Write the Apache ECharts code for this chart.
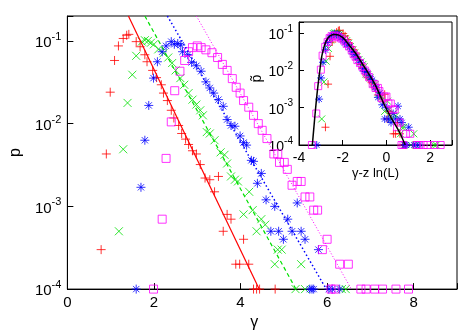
<!doctype html>
<html>
<head>
<meta charset="utf-8">
<title>p vs gamma</title>
<script src="https://cdn.jsdelivr.net/npm/echarts@6/dist/echarts.min.js"></script>
<style>
  html, body { margin: 0; padding: 0; background: #fff; }
  #chart { width: 471px; height: 336px; }
</style>
</head>
<body>
<div id="chart"></div>
<script>
// main panel: gamma and p for the four system sizes
var redG = [0.78,0.9,0.99,1.09,1.18,1.29,1.37,1.42,1.59,1.68,1.79,1.84,1.97,2.06,2.17,2.22,2.31,2.40,2.46,2.57,2.64,2.73,2.80,2.89,2.98,3.07,3.18,3.29,3.40,3.49,3.60,3.69,3.78,3.89,3.98,4.07,4.19,4.30,4.37,4.44,4.80];
var redP = [3e-4,4.3e-3,0.024,0.058,0.087,0.107,0.117,0.12,0.098,0.085,0.068,0.056,0.044,0.036,0.0295,0.0234,0.019,0.0145,0.0117,0.0095,0.0076,0.0065,0.0056,0.0047,0.0043,0.0032,0.0022,0.0021,0.0015,0.0023,5e-4,8e-4,7e-4,2e-4,2e-4,4e-4,2e-4,1e-4,1e-4,1e-4,1e-4];

var greenG = [1.19,1.29,1.39,1.50,1.59,1.72,1.79,1.86,1.93,2.00,2.10,2.22,2.33,2.42,2.50,2.61,2.70,2.80,2.89,2.98,3.07,3.13,3.22,3.29,3.40,3.54,3.63,3.69,3.78,3.87,3.94,4.07,4.20,4.28,4.37,4.48,4.57,4.79,4.86,4.95,5.27,5.40,5.49,6.34,6.43];
var greenP = [5e-4,4.9e-3,0.0178,0.039,0.066,0.098,0.102,0.1,0.095,0.091,0.079,0.071,0.063,0.054,0.044,0.0355,0.0295,0.0234,0.0195,0.017,0.0145,0.0126,0.0079,0.0076,0.0063,0.0045,0.0042,0.0033,0.0023,0.0021,0.002,8e-4,1.5e-3,9e-4,5e-4,7e-4,6e-4,2e-4,3e-4,3e-4,1e-4,2e-4,1e-4,1e-4,1e-4];

var blueG = [1.59,1.70,1.79,1.88,1.99,2.08,2.19,2.28,2.40,2.47,2.55,2.62,2.66,2.78,2.87,2.98,3.09,3.20,3.29,3.38,3.49,3.60,3.69,3.78,3.87,3.99,4.07,4.14,4.25,4.30,4.39,4.48,4.59,4.70,4.79,4.88,4.99,5.09,5.19,5.31,5.40,5.49,5.60,5.65,5.69,5.80,6.04,6.12,6.29];
var blueP = [1e-4,1.7e-3,6.3e-3,0.0166,0.0355,0.056,0.074,0.087,0.098,0.091,0.093,0.089,0.074,0.068,0.055,0.05,0.043,0.032,0.027,0.0234,0.0195,0.0162,0.0112,0.0095,0.0093,0.0071,0.0059,0.0055,0.0036,0.0035,1.9e-3,2.5e-3,1.2e-3,5e-4,1e-3,5e-4,4e-4,7e-4,5e-4,1.1e-3,5e-4,4e-4,1e-4,1e-4,1e-4,3e-4,1e-4,1e-4,1e-4];

var magentaG = [1.99,2.19,2.28,2.40,2.48,2.60,2.71,2.80,2.89,3.00,3.09,3.20,3.34,3.47,3.58,3.69,3.81,3.90,3.99,4.07,4.19,4.30,4.41,4.50,4.61,4.77,4.86,4.90,5.01,5.08,5.19,5.31,5.40,5.49,5.60,5.69,5.78,5.89,6.00,6.09,6.18,6.29,6.49,6.78,6.90,7.10,7.28,7.59,7.88];
var magentaP = [1e-4,7e-4,3.8e-3,0.0105,0.025,0.043,0.058,0.074,0.083,0.087,0.083,0.078,0.072,0.063,0.052,0.044,0.035,0.0275,0.0234,0.019,0.0158,0.0126,0.01,0.0083,0.0066,0.0043,0.0043,0.0034,0.0034,0.0028,0.0018,0.002,0.002,0.0013,0.0013,9e-4,9e-4,3e-4,4e-4,1e-4,1e-4,2e-4,2e-4,1e-4,1e-4,1e-4,1e-4,1e-4,1e-4];

// fitted straight lines (ends where they leave the frame)
var fitP = [0.2, 1e-4];
var redFitG = [1.41, 4.43];
var greenFitG = [1.79, 5.28];
var blueFitG = [2.31, 5.98];
var magentaFitG = [2.98, 6.56];

// inset: shift z ln(L) of each curve, and the black master curve
var zlnL = [3.57, 4.15, 4.78, 5.40];
var curveX = [-3.39,-3.33,-3.28,-3.21,-3.15,-3.09,-3.03,-2.97,-2.9,-2.82,-2.73,-2.64,-2.52,-2.41,-2.3,-2.18,-2.06,-1.95,-1.73,-1.42,-1.12,-0.82,-0.5,-0.3,-0.03,0.27,0.58,0.86];
var curveP = [1e-4,2.5e-4,5.4e-4,1.48e-3,3.2e-3,6.3e-3,0.012,0.022,0.034,0.05,0.066,0.079,0.089,0.093,0.093,0.089,0.081,0.072,0.05,0.0295,0.0158,0.0083,0.004,0.0022,1e-3,4.7e-4,2.3e-4,1e-4];

var mainTicksX = [0, 2, 4, 6, 8];
var insetTicksX = [-4, -2, 0, 2];

var RED = '#ff0000', GREEN = '#00e000', BLUE = '#0000ff', MAGENTA = '#ff00ff';
var PLUS = 'path://M0,5H10M5,0V10';
var CROSS = 'path://M0,0L10,10M10,0L0,10';
var STAR = 'path://M0,5H10M5,0V10M1.5,1.5L8.5,8.5M8.5,1.5L1.5,8.5';
var FONT = 'Liberation Sans';

function pairs(xs, ys, shift) {
	var out = [];
	for (var i = 0; i < xs.length; i++) {
		out.push([xs[i] - (shift || 0), ys[i]]);
	}
	return out;
}

function decadeLabel(v) {
	var e = Math.log10(v);
	if (Math.abs(e - Math.round(e)) > 1e-6) return '';
	return '{n|10}{s|' + Math.round(e) + '}';
}

function richFor(size) {
	return {
		n: { fontSize: size, fontFamily: FONT, color: '#000', verticalAlign: 'bottom', lineHeight: size + 4 },
		s: { fontSize: size - 4, fontFamily: FONT, color: '#000', verticalAlign: 'top', lineHeight: size + 4 }
	};
}

function dots(name, data, sym, size, color, grid) {
	return {
		name: name, type: 'scatter', xAxisIndex: grid, yAxisIndex: grid,
		data: data, symbol: sym, symbolSize: size, clip: false,
		itemStyle: { color: 'rgba(0,0,0,0)', borderColor: color, borderWidth: 1 },
		emphasis: { disabled: true }, silent: true, z: 3
	};
}

function fitLine(name, gs, color, type, width) {
	return {
		name: name, type: 'line', xAxisIndex: 0, yAxisIndex: 0,
		data: pairs(gs, fitP), showSymbol: false, silent: true,
		lineStyle: { color: color, width: width, type: type }, z: 4
	};
}

var chart = echarts.init(document.getElementById('chart'), null, { renderer: 'canvas' });

var series = [
	dots('red', pairs(redG, redP), PLUS, 9, RED, 0),
	dots('green', pairs(greenG, greenP), CROSS, 8, GREEN, 0),
	dots('blue', pairs(blueG, blueP), STAR, 9, BLUE, 0),
	dots('magenta', pairs(magentaG, magentaP), 'rect', 8, MAGENTA, 0),
	fitLine('redFit', redFitG, RED, 'solid', 1.2),
	fitLine('greenFit', greenFitG, GREEN, [4, 3], 1.2),
	fitLine('blueFit', blueFitG, BLUE, [1.5, 2.5], 1.5),
	fitLine('magentaFit', magentaFitG, MAGENTA, [1, 2], 1),
	dots('red2', pairs(redG, redP, zlnL[0]), PLUS, 8, RED, 1),
	dots('green2', pairs(greenG, greenP, zlnL[1]), CROSS, 7, GREEN, 1),
	dots('blue2', pairs(blueG, blueP, zlnL[2]), STAR, 8, BLUE, 1),
	dots('magenta2', pairs(magentaG, magentaP, zlnL[3]), 'rect', 7, MAGENTA, 1),
	{
		name: 'master', type: 'line', xAxisIndex: 1, yAxisIndex: 1,
		data: pairs(curveX, curveP), showSymbol: false, smooth: 0.3, silent: true,
		lineStyle: { color: '#000', width: 1.5 }, z: 5
	}
];

chart.setOption({
	animation: false,
	backgroundColor: '#fff',
	grid: [
		{ left: 55, right: 14, top: 16, bottom: 40, show: true, borderColor: '#000', borderWidth: 1, backgroundColor: 'rgba(0,0,0,0)' },
		{ left: 299, right: 19, top: 22, bottom: 191, show: true, borderColor: '#000', borderWidth: 1, backgroundColor: '#fff' }
	],
	xAxis: [
		{
			gridIndex: 0, type: 'value', min: 0, max: 9, interval: 2,
			name: 'γ', nameLocation: 'middle', nameGap: 20,
			nameTextStyle: { fontFamily: FONT, fontSize: 16, color: '#000', padding: [0, 16, 0, 0] },
			axisLine: { onZero: false, lineStyle: { color: '#000', width: 1 } },
			axisTick: { inside: true, length: 6, lineStyle: { color: '#000' } },
			axisLabel: {
				margin: 6, fontFamily: FONT, fontSize: 15, color: '#000',
				formatter: function (v) { return mainTicksX.indexOf(v) >= 0 ? String(v) : ''; }
			},
			splitLine: { show: false }
		},
		{
			gridIndex: 1, type: 'value', min: -4, max: 3, interval: 2,
			name: 'γ-z ln(L)', nameLocation: 'middle', nameGap: 22,
			nameTextStyle: { fontFamily: FONT, fontSize: 13, color: '#000' },
			axisLine: { onZero: false, lineStyle: { color: '#000', width: 1 } },
			axisTick: { inside: true, length: 5, lineStyle: { color: '#000' } },
			axisLabel: {
				margin: 6, fontFamily: FONT, fontSize: 14, color: '#000',
				formatter: function (v) { return insetTicksX.indexOf(v) >= 0 ? String(v) : ''; }
			},
			splitLine: { show: false }
		}
	],
	yAxis: [
		{
			gridIndex: 0, type: 'log', logBase: 10, min: 1e-4, max: 0.2,
			name: 'p', nameLocation: 'middle', nameGap: 36, nameRotate: 90,
			nameTextStyle: { fontFamily: FONT, fontSize: 16, color: '#000' },
			axisLine: { onZero: false, lineStyle: { color: '#000', width: 1 } },
			axisTick: { inside: true, length: 6, lineStyle: { color: '#000' } },
			axisLabel: { margin: 6, formatter: decadeLabel, rich: richFor(15) },
			minorTick: { show: false },
			splitLine: { show: false }
		},
		{
			gridIndex: 1, type: 'log', logBase: 10, min: 1e-4, max: 0.2,
			name: 'p\u0303', nameLocation: 'middle', nameGap: 28, nameRotate: 90,
			nameTextStyle: { fontFamily: FONT, fontSize: 14, color: '#000', padding: [0, 0, 0, 10] },
			axisLine: { onZero: false, lineStyle: { color: '#000', width: 1 } },
			axisTick: { inside: true, length: 5, lineStyle: { color: '#000' } },
			axisLabel: { margin: 6, formatter: decadeLabel, rich: richFor(14) },
			minorTick: { show: false },
			splitLine: { show: false }
		}
	],
	series: series
});
</script>
</body>
</html>
